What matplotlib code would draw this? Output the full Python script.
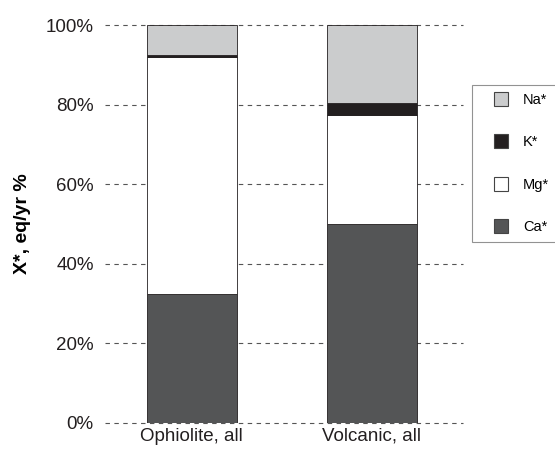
import numpy as np
import matplotlib.pyplot as plt
from matplotlib.lines import Line2D

plt.rcParams['font.family'] = ['Liberation Sans', 'DejaVu Sans']

# share of each cation in total equivalents, per rock group
groups = ['Ophiolite, all', 'Volcanic, all']
ca = [32.5, 50.0]
mg = [59.5, 27.5]
k = [0.5, 3.0]
na = [7.5, 19.5]

series = [('Ca*', ca, '#545556'), ('Mg*', mg, '#ffffff'),
          ('K*', k, '#231f20'), ('Na*', na, '#cbcccd')]

fig = plt.figure(figsize=(5.55, 4.49), dpi=100)
ax = fig.add_axes([0.189, 0.058, 0.645, 0.886])

x = np.arange(len(groups))
bottom = np.zeros(len(groups))
for name, vals, color in series:
    ax.bar(x, vals, width=0.5, bottom=bottom, color=color,
           edgecolor='#231f20', linewidth=0.6, label=name, zorder=3)
    bottom += np.array(vals)

ax.set_xlim(-0.483, 1.506)
ax.set_ylim(0, 100)
ax.set_yticks(np.arange(0, 101, 20))
ax.set_yticklabels([f'{v}%' for v in range(0, 101, 20)])
ax.set_xticks(x)
ax.set_xticklabels(groups)
ax.yaxis.grid(True, linestyle=(0, (4, 4)), color='#555555', linewidth=0.8, zorder=0)
for gl in ax.get_ygridlines():
    gl.set_clip_on(False)
for s in ax.spines.values():
    s.set_visible(False)
ax.tick_params(axis='both', length=0, labelsize=13.5, colors='#231f20')
ax.tick_params(axis='y', pad=8)
ax.tick_params(axis='x', pad=3.5)
ax.set_ylabel('X*, eq/yr %', fontsize=14, fontweight='bold', labelpad=11)

# square swatches for the legend, top entry first
swatches = [Line2D([], [], linestyle='none', marker='s', markersize=10.5,
                   markerfacecolor=color, markeredgecolor='#444444',
                   markeredgewidth=0.8)
            for _, _, color in series[::-1]]
leg = fig.legend(swatches, [s[0] for s in series][::-1],
                 loc='upper left', bbox_to_anchor=(0.850, 0.811),
                 fontsize=10.5, frameon=True, fancybox=False,
                 handlelength=2.95, labelspacing=1.95,
                 borderpad=0.55, handletextpad=0.0, borderaxespad=0)
leg.get_frame().set_edgecolor('#777777')
leg.get_frame().set_linewidth(0.8)

fig.savefig('out.png', dpi=100)
